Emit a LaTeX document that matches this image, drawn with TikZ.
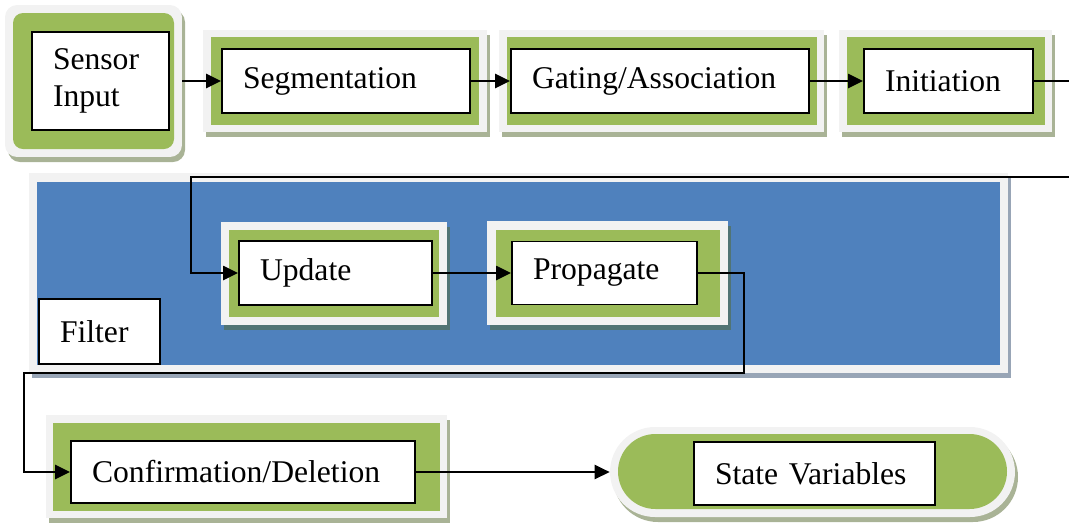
\documentclass[tikz,border=0pt]{standalone}
\usepackage{fontspec}
\setmainfont{Liberation Serif}
\usetikzlibrary{arrows.meta,positioning,calc}
\definecolor{padgreen}{RGB}{155,187,89}
\definecolor{rimgrey}{RGB}{242,242,242}
\definecolor{filterblue}{RGB}{79,129,189}

\begin{document}
\begin{tikzpicture}[x=0.02cm, y=-0.02cm,
    stage/.style={rectangle, draw=black, line width=1.1pt, fill=white,
        font=\fontsize{18}{21}\selectfont, align=left,
        inner xsep=0.42cm, inner ysep=0pt},
    arr/.style={-{Triangle[length=3mm, width=2.8mm]}, line width=1.4pt},
    shade/.style={fill={rgb,255:red,84;green,104;blue,45}, fill opacity=0.5},
    panelshade/.style={fill={rgb,255:red,50;green,75;blue,110}, fill opacity=0.5},
    rim/.style={fill=rimgrey},
    pad/.style={fill=padgreen}
]
    \useasboundingbox (0,0) rectangle (1069,522);
    \clip (0,0) rectangle (1069,522);

    % Filter panel
    \fill[panelshade] (32,178) rectangle (1011,378);
    \fill[rim] (29,173) rectangle (1008,373);
    \fill[filterblue] (37,182) rectangle (1000,365);

    % Frames, top row
    \fill[shade, rounded corners=0.24cm] (8,10) rectangle (185,162);
    \node[rim, rounded corners=0.24cm, minimum width=3.54cm, minimum height=3.04cm] (sensorrim) at (93.5,81) {};
    \fill[pad, rounded corners=0.2cm] (13,13) rectangle (174,149);

    \fill[shade] (206,35) rectangle (490,137);
    \fill[rim] (203,30) rectangle (487,132);
    \fill[pad] (211,37) rectangle (479,125);

    \fill[shade] (502,35) rectangle (827,137);
    \fill[rim] (499,30) rectangle (824,132);
    \fill[pad] (507,37) rectangle (817,125);

    \fill[shade] (842,35) rectangle (1055,137);
    \fill[rim] (839,30) rectangle (1052,132);
    \fill[pad] (847,37) rectangle (1045,125);

    % Frames, filter row
    \fill[shade] (224,227) rectangle (450,330);
    \fill[rim] (221,222) rectangle (447,325);
    \fill[pad] (229,230) rectangle (439,317);

    \fill[shade] (490,226) rectangle (731,330);
    \fill[rim] (487,221) rectangle (728,325);
    \fill[pad] (496,230) rectangle (720,317);

    % Frames, bottom row
    \fill[shade] (49,420) rectangle (450,523);
    \fill[rim] (46,415) rectangle (447,518);
    \fill[pad] (53,423) rectangle (440,511);

    \fill[shade, rounded corners=0.9cm] (613,432) rectangle (1018,522);
    \node[rim, rounded corners=0.9cm, minimum width=8.1cm, minimum height=1.8cm] (staterim) at (812.5,472) {};
    \fill[pad, rounded corners=0.75cm] (618,434) rectangle (1007,509);

    % Stages
    \node[stage, text width=1.9cm, minimum height=1.96cm] (sensor) at (100.5,81) {Sensor\\Input};
    \node[stage, text width=4.12cm, minimum height=1.28cm] (seg) at (346,81) {Segmentation};
    \node[stage, text width=5.12cm, minimum height=1.28cm] (gate) at (660,81) {Gating/Association};
    \node[stage, text width=2.54cm, minimum height=1.28cm] (init) at (948.5,81) {Initiation};

    \node[stage, text width=3.02cm, minimum height=1.28cm] (upd) at (335.5,273) {Update};
    \node[stage, text width=2.86cm, minimum height=1.26cm] (prop) at (604.5,273) {Propagate};
    \node[stage, text width=1.58cm, minimum height=1.3cm] (filt) at (99.5,331.5) {Filter};

    \node[stage, text width=6.04cm, minimum height=1.24cm] (conf) at (243,472) {Confirmation/Deletion};
    \node[stage, text width=3.98cm, minimum height=1.26cm] (state) at (814.5,473.5) {State Variables};

    % Connectors
    \coordinate (outR) at (1075,177);
    \coordinate (inL) at (191,177);
    \coordinate (downR) at (744,373);
    \coordinate (downL) at (24,373);

    \draw[arr] (sensorrim.east) -- (seg.west);
    \draw[arr] (seg.east) -- (gate.west);
    \draw[arr] (gate.east) -- (init.west);
    \draw[arr] (init.east) -| (outR) -- (inL) |- (upd.west);
    \draw[arr] (upd.east) -- (prop.west);
    \draw[arr] (prop.east) -| (downR) -- (downL) |- (conf.west);
    \draw[arr] (conf.east) -- (staterim.west);
\end{tikzpicture}
\end{document}
